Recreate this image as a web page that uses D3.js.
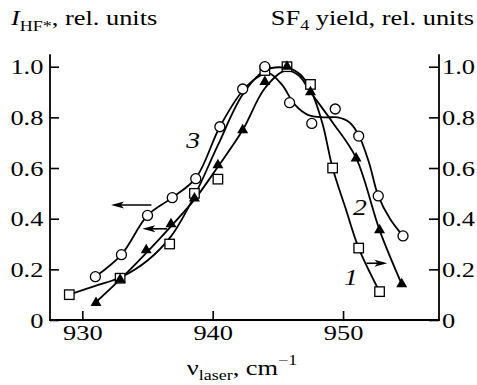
<!DOCTYPE html>
<html><head><meta charset="utf-8">
<script src="https://cdn.jsdelivr.net/npm/d3@7/dist/d3.min.js"></script>
<style>
body{margin:0;background:#fff;}
text{font-family:"Liberation Serif",serif;fill:#000;}
</style></head>
<body><svg id="c" width="477" height="385"></svg>
<script>
// ---- data ----
const xTicks = [930, 940, 950];
const yTicks = [0, 0.2, 0.4, 0.6, 0.8, 1.0];
const yTickLabels = ["0", "0.2", "0.4", "0.6", "0.8", "1.0"];

// series 1: squares (SF4 yield)
const s1X = [929.0, 932.9, 936.7, 938.6, 940.4, 944.0, 945.7, 947.5, 949.2, 951.2, 952.8];
const s1Y = [0.10, 0.165, 0.30, 0.50, 0.556, 0.985, 1.0, 0.93, 0.60, 0.284, 0.112];
// series 2: filled triangles (SF4 yield)
const s2X = [931.05, 932.9, 934.9, 936.8, 938.6, 940.4, 942.3, 944.0, 945.7, 947.5, 951.0, 952.8, 954.5];
const s2Y = [0.068, 0.16, 0.276, 0.379, 0.48, 0.612, 0.75, 0.94, 1.0, 0.90, 0.638, 0.355, 0.142];
// series 3: circles (I_HF*)
const s3X = [931.0, 933.0, 935.0, 936.9, 938.7, 940.55, 942.3, 944.0, 945.9, 947.6, 949.4, 951.2, 952.7, 954.6];
const s3Y = [0.171, 0.258, 0.413, 0.483, 0.558, 0.763, 0.912, 1.0, 0.858, 0.776, 0.833, 0.726, 0.49, 0.332];

// smooth fitted curves as drawn in the reference
const c1X = [929.0, 931.0, 933.0, 935.0, 936.8, 938.6, 940.4, 942.3, 944.0, 945.7, 946.7, 947.5, 948.4, 949.2, 950.2, 951.2, 952.8];
const c1Y = [0.10, 0.135, 0.17, 0.235, 0.33, 0.49, 0.69, 0.89, 0.985, 0.995, 0.97, 0.91, 0.78, 0.60, 0.44, 0.284, 0.112];
const c2X = [931.0, 933.0, 935.0, 936.8, 938.6, 940.4, 942.3, 944.0, 945.6, 946.6, 947.5, 949.2, 951.0, 952.8, 954.5];
const c2Y = [0.068, 0.165, 0.27, 0.37, 0.475, 0.605, 0.75, 0.915, 0.985, 0.965, 0.90, 0.78, 0.64, 0.355, 0.142];
const c3X = [931.0, 933.0, 935.0, 936.9, 938.7, 940.55, 942.3, 943.5, 944.3, 945.3, 946.3, 947.3, 948.5, 949.6, 950.5, 951.2, 952.0, 952.7, 953.6, 954.6];
const c3Y = [0.171, 0.258, 0.413, 0.483, 0.56, 0.763, 0.905, 0.96, 0.975, 0.93, 0.85, 0.81, 0.80, 0.80, 0.78, 0.73, 0.62, 0.49, 0.40, 0.332];

// curve labels and arrows (data coordinates)
const curveLabels = [{t:"1", x:950.6, y:0.171}, {t:"2", x:951.3, y:0.447}, {t:"3", x:938.5, y:0.71}];
const arrows = [
  {x1:935.3, x2:932.2, y:0.454},
  {x1:936.5, x2:934.6, y:0.36},
  {x1:951.8, x2:953.4, y:0.224}
];

// ---- layout ----
const svg = d3.select("#c");
const x = d3.scaleLinear().domain([927.52, 957.36]).range([50, 439]);
const y = d3.scaleLinear().domain([0, 1]).range([320, 66.7]);
const yTop = 1.046;
const FS = 22, SUB = 15, SX = 1.2;

// axes
const gx = svg.append("g").attr("transform", `translate(0,${y(0)})`)
  .call(d3.axisBottom(x).tickValues(xTicks).tickSizeInner(-9).tickSizeOuter(0).tickPadding(4).tickFormat(d3.format("d")));
const gl = svg.append("g").attr("transform", `translate(${x.range()[0]},0)`)
  .call(d3.axisLeft(y).tickValues(yTicks).tickSizeInner(-9).tickSizeOuter(0).tickPadding(5.5).tickFormat((d,i)=>yTickLabels[i]));
const gr = svg.append("g").attr("transform", `translate(${x.range()[1]},0)`)
  .call(d3.axisRight(y).tickValues(yTicks).tickSizeInner(-10).tickSizeOuter(0).tickPadding(2.5).tickFormat((d,i)=>yTickLabels[i]));
[gx, gl, gr].forEach(g => {
  g.attr("font-family", null).attr("font-size", null);
  g.select(".domain").remove();
  g.selectAll(".tick line").attr("stroke", "#000").attr("stroke-width", 1.6);
  g.selectAll(".tick text").attr("font-size", FS).attr("transform", `scale(${SX},1)`);
});
const axisLines = [
  [x.range()[0], y(yTop), x.range()[0], y(0)],
  [x.range()[1], y(yTop), x.range()[1], y(0)],
  [x.range()[0], y(0), x.range()[1], y(0)]
];
svg.selectAll("line.ax").data(axisLines).join("line").attr("class","ax")
  .attr("x1", d=>d[0]).attr("y1", d=>d[1]).attr("x2", d=>d[2]).attr("y2", d=>d[3])
  .attr("stroke", "#000").attr("stroke-width", 1.8).attr("stroke-linecap","square");

// curves
const line = d3.line().x(d=>x(d[0])).y(d=>y(d[1])).curve(d3.curveCatmullRom.alpha(0.5));
[[c1X,c1Y],[c2X,c2Y],[c3X,c3Y]].forEach(([cx,cy]) => {
  svg.append("path").datum(cx.map((v,i)=>[v, cy[i]]))
    .attr("d", line).attr("fill","none").attr("stroke","#000").attr("stroke-width",1.8);
});

// markers
const sq = 9.5;
svg.selectAll("rect.s1").data(s1X.map((v,i)=>[v,s1Y[i]])).join("rect").attr("class","s1")
  .attr("x", d=>x(d[0])-sq/2).attr("y", d=>y(d[1])-sq/2).attr("width", sq).attr("height", sq)
  .attr("fill","#fff").attr("stroke","#000").attr("stroke-width",1.3);
const tri = d3.symbol().type(d3.symbolTriangle).size(52);
svg.selectAll("path.s2").data(s2X.map((v,i)=>[v,s2Y[i]])).join("path").attr("class","s2")
  .attr("d", tri).attr("transform", d=>`translate(${x(d[0])},${y(d[1])})`).attr("fill","#000");
svg.selectAll("circle.s3").data(s3X.map((v,i)=>[v,s3Y[i]])).join("circle").attr("class","s3")
  .attr("cx", d=>x(d[0])).attr("cy", d=>y(d[1])).attr("r", 5)
  .attr("fill","#fff").attr("stroke","#000").attr("stroke-width",1.3);

// arrows
arrows.forEach(a => {
  const X1 = x(a.x1), X2 = x(a.x2), Y = y(a.y);
  const dir = Math.sign(X2 - X1);
  const hl = 13, hw = 3.5;
  svg.append("line").attr("x1", X1).attr("y1", Y).attr("x2", X2 - dir*hl*0.6).attr("y2", Y)
    .attr("stroke","#000").attr("stroke-width",1.6);
  svg.append("path").attr("d", `M${X2},${Y} L${X2-dir*hl},${Y-hw} L${X2-dir*hl*0.75},${Y} L${X2-dir*hl},${Y+hw} Z`)
    .attr("fill","#000");
});

// curve labels
svg.selectAll("text.cl").data(curveLabels).join("text").attr("class","cl")
  .attr("transform", d=>`translate(${x(d.x)},${y(d.y)}) scale(${SX},1)`).attr("dy","0.35em")
  .attr("text-anchor","middle").attr("font-size", 23).attr("font-style","italic").text(d=>d.t);

// axis titles
const tl = svg.append("text").attr("transform", `translate(11,25) scale(${SX},1)`).attr("font-size", FS);
tl.append("tspan").attr("font-style","italic").text("I");
tl.append("tspan").attr("font-size", SUB).attr("dy", 6).text("HF*");
tl.append("tspan").attr("dy", -6).text(", rel. units");

const tr = svg.append("text").attr("transform", `translate(474,25) scale(${SX},1)`).attr("font-size", FS).attr("text-anchor","end");
tr.append("tspan").text("SF");
tr.append("tspan").attr("font-size", SUB).attr("dy", 5).text("4");
tr.append("tspan").attr("dy", -5).text(" yield, rel. units");

const tb = svg.append("text").attr("transform", `translate(242,375) scale(${SX},1)`).attr("font-size", FS).attr("text-anchor","middle");
tb.append("tspan").text("ν");
tb.append("tspan").attr("font-size", SUB).attr("dy", 5).text("laser");
tb.append("tspan").attr("dy", -5).text(", cm");
tb.append("tspan").attr("font-size", SUB).attr("dy", -10).text("−1");
</script></body></html>
